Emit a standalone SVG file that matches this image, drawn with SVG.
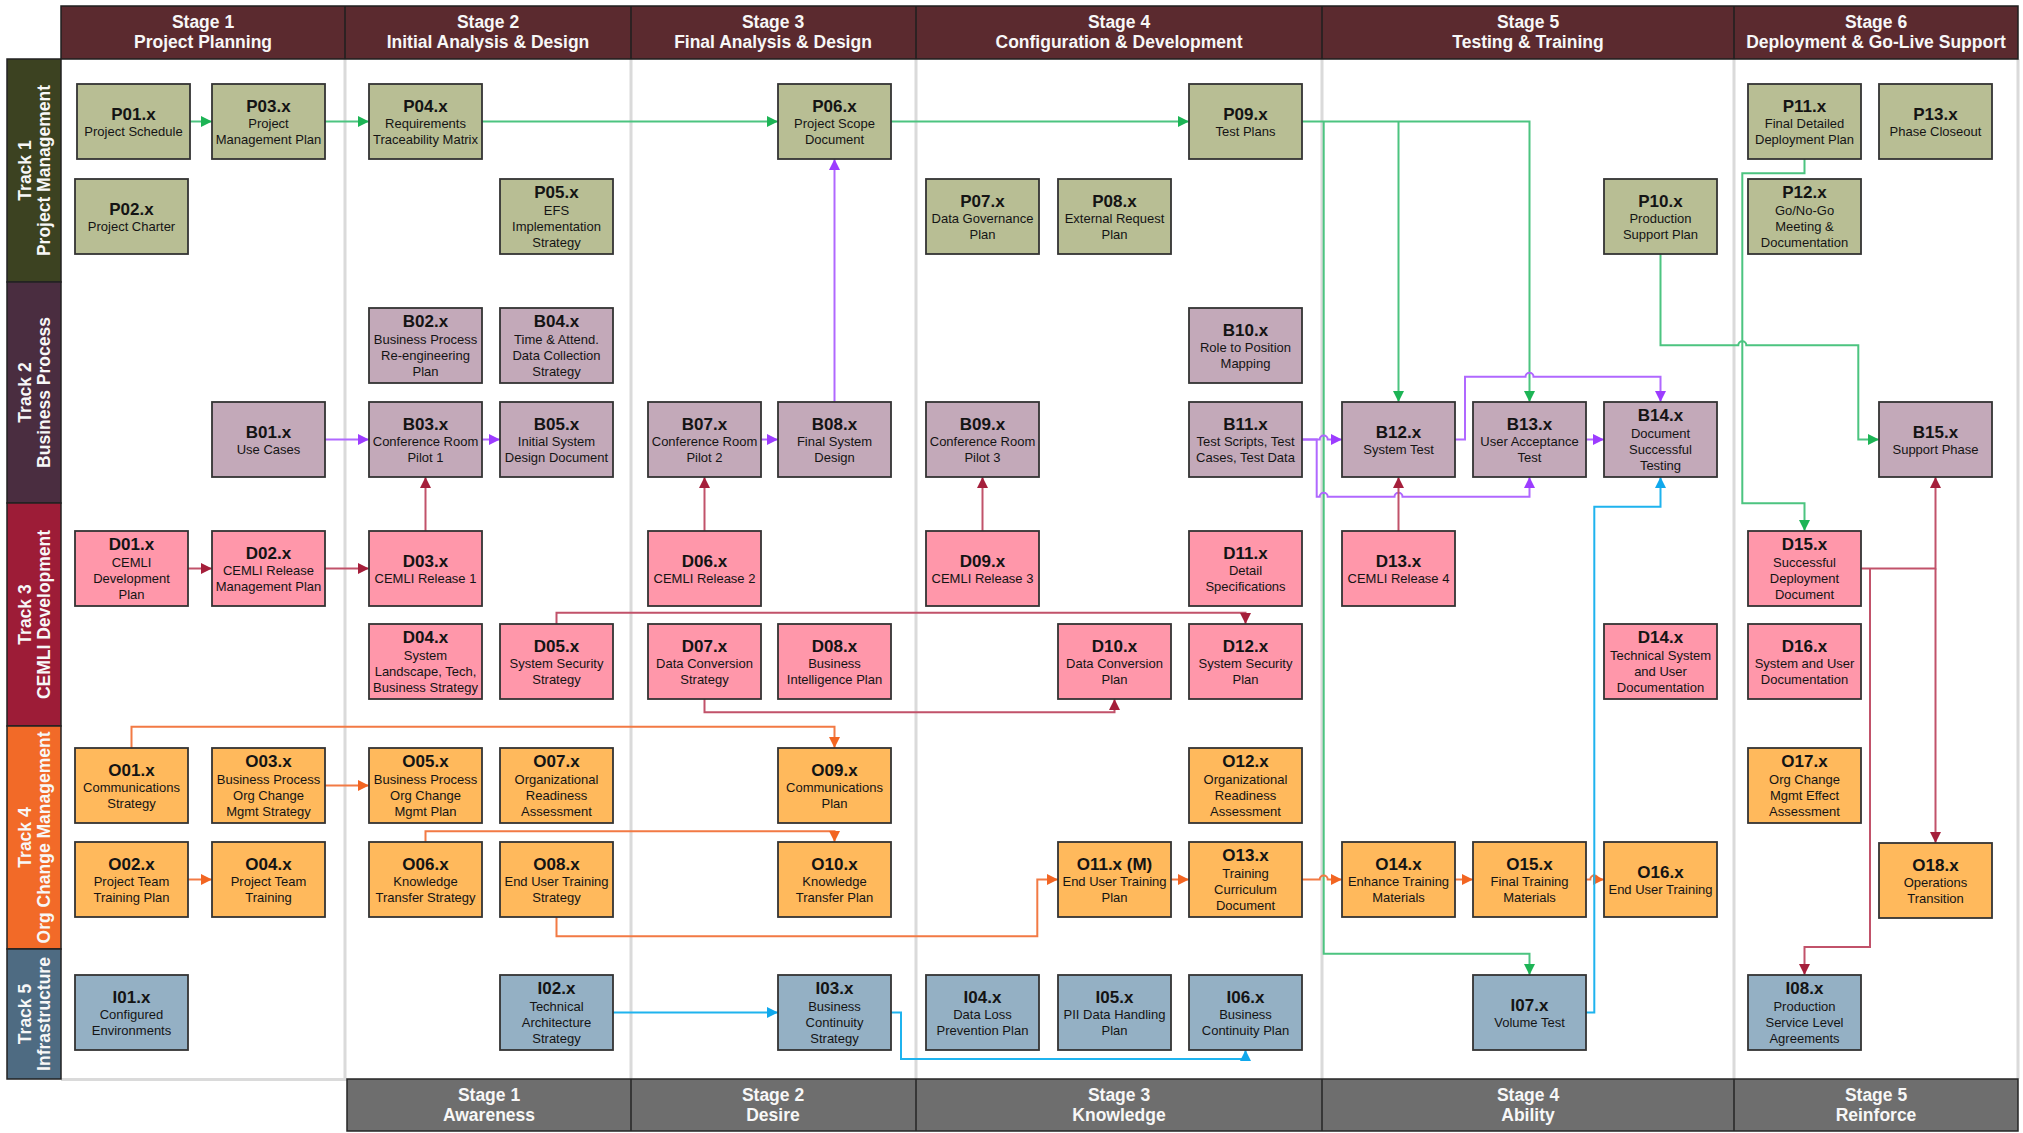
<svg xmlns="http://www.w3.org/2000/svg" width="2023" height="1133" viewBox="0 0 2023 1133">
<style>
text{font-family:"Liberation Sans",Arial,sans-serif}
.band text{font-weight:bold;font-size:17.5px;fill:#f7f7f7;text-anchor:middle}
.n rect{stroke:#333;stroke-width:1.8}
.n text{text-anchor:middle;fill:#141414}
.t{font-weight:bold;font-size:17px}
.s{font-size:13px}
.p rect{fill:#b8be94}
.b rect{fill:#c3a9b9}
.d rect{fill:#ff97aa}
.o rect{fill:#ffb95c}
.i rect{fill:#94b0c4}
.cn path{fill:none;stroke-width:2}
.lg{stroke:#4cc480;marker-end:url(#ag)}
.lp{stroke:#b068ff;marker-end:url(#ap)}
.lc{stroke:#c1526a;marker-end:url(#ac)}
.lo{stroke:#f27a44;marker-end:url(#ao)}
.lb{stroke:#1fb3ee;marker-end:url(#ab)}
.div{stroke:#dadada;stroke-width:3}
</style>
<defs>
<marker id="ag" viewBox="0 0 11 11" refX="11" refY="5.5" markerWidth="11" markerHeight="11" markerUnits="userSpaceOnUse" orient="auto"><path d="M0,0L11,5.5L0,11z" fill="#1db455"/></marker>
<marker id="ap" viewBox="0 0 11 11" refX="11" refY="5.5" markerWidth="11" markerHeight="11" markerUnits="userSpaceOnUse" orient="auto"><path d="M0,0L11,5.5L0,11z" fill="#9c3cff"/></marker>
<marker id="ac" viewBox="0 0 11 11" refX="11" refY="5.5" markerWidth="11" markerHeight="11" markerUnits="userSpaceOnUse" orient="auto"><path d="M0,0L11,5.5L0,11z" fill="#a51f3b"/></marker>
<marker id="ao" viewBox="0 0 11 11" refX="11" refY="5.5" markerWidth="11" markerHeight="11" markerUnits="userSpaceOnUse" orient="auto"><path d="M0,0L11,5.5L0,11z" fill="#f26522"/></marker>
<marker id="ab" viewBox="0 0 11 11" refX="11" refY="5.5" markerWidth="11" markerHeight="11" markerUnits="userSpaceOnUse" orient="auto"><path d="M0,0L11,5.5L0,11z" fill="#10a8ec"/></marker>
</defs>
<rect width="2023" height="1133" fill="#fff"/>

<!-- stage column dividers -->
<g id="grid">
<path class="div" d="M345,59V1079M631,59V1079M916,59V1079M1322,59V1079M1734,59V1079M2018,59V1079M61,1079.5H347"/>
</g>

<!-- stage header (top) -->
<g id="stages-top" class="band">
<rect x="61" y="6" width="1957" height="53" fill="#5b2a2f" stroke="#1f1f1f" stroke-width="1.5"/>
<path d="M345,6V59M631,6V59M916,6V59M1322,6V59M1734,6V59" stroke="#1f1f1f" stroke-width="1.5"/>
<text x="203" y="28">Stage 1</text><text x="203" y="48">Project Planning</text>
<text x="488" y="28">Stage 2</text><text x="488" y="48">Initial Analysis &amp; Design</text>
<text x="773" y="28">Stage 3</text><text x="773" y="48">Final Analysis &amp; Design</text>
<text x="1119" y="28">Stage 4</text><text x="1119" y="48">Configuration &amp; Development</text>
<text x="1528" y="28">Stage 5</text><text x="1528" y="48">Testing &amp; Training</text>
<text x="1876" y="28">Stage 6</text><text x="1876" y="48">Deployment &amp; Go-Live Support</text>
</g>

<!-- change stages (bottom) -->
<g id="stages-bottom" class="band">
<rect x="347" y="1079" width="1671" height="52" fill="#6e6e6e" stroke="#262626" stroke-width="1.5"/>
<path d="M631,1079V1131M916,1079V1131M1322,1079V1131M1734,1079V1131" stroke="#262626" stroke-width="1.5"/>
<text x="489" y="1101">Stage 1</text><text x="489" y="1121">Awareness</text>
<text x="773" y="1101">Stage 2</text><text x="773" y="1121">Desire</text>
<text x="1119" y="1101">Stage 3</text><text x="1119" y="1121">Knowledge</text>
<text x="1528" y="1101">Stage 4</text><text x="1528" y="1121">Ability</text>
<text x="1876" y="1101">Stage 5</text><text x="1876" y="1121">Reinforce</text>
</g>

<!-- track bands -->
<g id="tracks" class="band">
<rect x="7" y="59" width="54" height="223" fill="#3c4221" stroke="#222" stroke-width="1.5"/>
<rect x="7" y="282" width="54" height="221" fill="#4a2d40" stroke="#222" stroke-width="1.5"/>
<rect x="7" y="503" width="54" height="223" fill="#9d1c37" stroke="#222" stroke-width="1.5"/>
<rect x="7" y="726" width="54" height="223" fill="#f26a28" stroke="#222" stroke-width="1.5"/>
<rect x="7" y="949" width="54" height="130" fill="#4e6b82" stroke="#222" stroke-width="1.5"/>
<text transform="translate(31,170.5) rotate(-90)">Track 1</text>
<text transform="translate(50,170.5) rotate(-90)">Project Management</text>
<text transform="translate(31,392.5) rotate(-90)">Track 2</text>
<text transform="translate(50,392.5) rotate(-90)">Business Process</text>
<text transform="translate(31,614.5) rotate(-90)">Track 3</text>
<text transform="translate(50,614.5) rotate(-90)">CEMLI Development</text>
<text transform="translate(31,837.5) rotate(-90)">Track 4</text>
<text transform="translate(50,837.5) rotate(-90)">Org Change Management</text>
<text transform="translate(31,1014) rotate(-90)">Track 5</text>
<text transform="translate(50,1014) rotate(-90)">Infrastructure</text>
</g>

<!-- connectors -->
<g id="connectors" class="cn">
<!-- green: project management flow -->
<path class="lg" d="M190,121.5H212"/>
<path class="lg" d="M325,121.5H369"/>
<path class="lg" d="M482,121.5H778"/>
<path class="lg" d="M891,121.5H1189"/>
<path class="lg" d="M1302,121.5H1529.5V402"/>
<path class="lg" d="M1398.5,121.5V402"/>
<path class="lg" d="M1323.7,121.5V953.7H1529.5V975"/>
<path class="lg" d="M1804.5,159V173.3H1742.3V503.3H1804.5V531"/>
<path class="lg" d="M1660.5,254V345.3H1738.3A4,4 0 0 1 1746.3,345.3H1858.3V439.5H1879"/>
<!-- purple: business process flow -->
<path class="lp" d="M325,439.5H369"/>
<path class="lp" d="M482,439.5H500"/>
<path class="lp" d="M761,439.5H778"/>
<path class="lp" d="M834.5,402V159"/>
<path class="lp" d="M1302,439.5H1319.7A4,4 0 0 1 1327.7,439.5H1342"/>
<path class="lp" d="M1302,439.5H1316.7V496.7H1319.7A4,4 0 0 1 1327.7,496.7H1394.5A4,4 0 0 1 1402.5,496.7H1529.5V477"/>
<path class="lp" d="M1455,439.5H1465V376.7H1525.5A4,4 0 0 1 1533.5,376.7H1660.5V402"/>
<path class="lp" d="M1586,439.5H1604"/>
<!-- crimson: CEMLI flow -->
<path class="lc" d="M188,568.5H212"/>
<path class="lc" d="M325,568.5H369"/>
<path class="lc" d="M425.5,531V477"/>
<path class="lc" d="M704.5,531V477"/>
<path class="lc" d="M982.5,531V477"/>
<path class="lc" d="M1398.5,531V477"/>
<path class="lc" d="M556.5,624V612.7H1245.5V624"/>
<path class="lc" d="M704.5,699V712.3H1114.5V699"/>
<path class="lc" d="M1861,568.5H1935.5V477"/>
<path class="lc" d="M1935.5,568.5V843"/>
<path class="lc" d="M1870,568.5V947H1804.5V975"/>
<!-- orange: org change flow -->
<path class="lo" d="M131.5,748V726.7H834.5V748"/>
<path class="lo" d="M325,785.5H369"/>
<path class="lo" d="M188,879.5H212"/>
<path class="lo" d="M425.5,842V831.3H834.5V842"/>
<path class="lo" d="M556.5,917V936.3H1037.3V879.5H1058"/>
<path class="lo" d="M1171,879.5H1189"/>
<path class="lo" d="M1302,879.5H1319.7A4,4 0 0 1 1327.7,879.5H1342"/>
<path class="lo" d="M1455,879.5H1473"/>
<path class="lo" d="M1586,879.5H1590.3A4,4 0 0 1 1598.3,879.5H1604"/>
<!-- blue: infrastructure flow -->
<path class="lb" d="M613,1012.5H778"/>
<path class="lb" d="M891,1012.5H901V1059H1245.5V1050"/>
<path class="lb" d="M1586,1012.5H1594.3V506.7H1660.5V477"/>
</g>

<!-- Track 1: project management -->
<g id="P01" class="n p" transform="translate(77,84)"><rect width="113" height="75"/><text class="t" x="56.5" y="36">P01.x</text><text class="s" x="56.5" y="52">Project Schedule</text></g>
<g id="P02" class="n p" transform="translate(75,179)"><rect width="113" height="75"/><text class="t" x="56.5" y="36">P02.x</text><text class="s" x="56.5" y="52">Project Charter</text></g>
<g id="P03" class="n p" transform="translate(212,84)"><rect width="113" height="75"/><text class="t" x="56.5" y="27.5">P03.x</text><text class="s" x="56.5" y="44">Project</text><text class="s" x="56.5" y="60">Management Plan</text></g>
<g id="P04" class="n p" transform="translate(369,84)"><rect width="113" height="75"/><text class="t" x="56.5" y="27.5">P04.x</text><text class="s" x="56.5" y="44">Requirements</text><text class="s" x="56.5" y="60">Traceability Matrix</text></g>
<g id="P05" class="n p" transform="translate(500,179)"><rect width="113" height="75"/><text class="t" x="56.5" y="19">P05.x</text><text class="s" x="56.5" y="35.5">EFS</text><text class="s" x="56.5" y="51.5">Implementation</text><text class="s" x="56.5" y="68">Strategy</text></g>
<g id="P06" class="n p" transform="translate(778,84)"><rect width="113" height="75"/><text class="t" x="56.5" y="27.5">P06.x</text><text class="s" x="56.5" y="44">Project Scope</text><text class="s" x="56.5" y="60">Document</text></g>
<g id="P07" class="n p" transform="translate(926,179)"><rect width="113" height="75"/><text class="t" x="56.5" y="27.5">P07.x</text><text class="s" x="56.5" y="44">Data Governance</text><text class="s" x="56.5" y="60">Plan</text></g>
<g id="P08" class="n p" transform="translate(1058,179)"><rect width="113" height="75"/><text class="t" x="56.5" y="27.5">P08.x</text><text class="s" x="56.5" y="44">External Request</text><text class="s" x="56.5" y="60">Plan</text></g>
<g id="P09" class="n p" transform="translate(1189,84)"><rect width="113" height="75"/><text class="t" x="56.5" y="36">P09.x</text><text class="s" x="56.5" y="52">Test Plans</text></g>
<g id="P10" class="n p" transform="translate(1604,179)"><rect width="113" height="75"/><text class="t" x="56.5" y="27.5">P10.x</text><text class="s" x="56.5" y="44">Production</text><text class="s" x="56.5" y="60">Support Plan</text></g>
<g id="P11" class="n p" transform="translate(1748,84)"><rect width="113" height="75"/><text class="t" x="56.5" y="27.5">P11.x</text><text class="s" x="56.5" y="44">Final Detailed</text><text class="s" x="56.5" y="60">Deployment Plan</text></g>
<g id="P12" class="n p" transform="translate(1748,179)"><rect width="113" height="75"/><text class="t" x="56.5" y="19">P12.x</text><text class="s" x="56.5" y="35.5">Go/No-Go</text><text class="s" x="56.5" y="51.5">Meeting &amp;</text><text class="s" x="56.5" y="68">Documentation</text></g>
<g id="P13" class="n p" transform="translate(1879,84)"><rect width="113" height="75"/><text class="t" x="56.5" y="36">P13.x</text><text class="s" x="56.5" y="52">Phase Closeout</text></g>

<!-- Track 2: business process -->
<g id="B01" class="n b" transform="translate(212,402)"><rect width="113" height="75"/><text class="t" x="56.5" y="36">B01.x</text><text class="s" x="56.5" y="52">Use Cases</text></g>
<g id="B02" class="n b" transform="translate(369,308)"><rect width="113" height="75"/><text class="t" x="56.5" y="19">B02.x</text><text class="s" x="56.5" y="35.5">Business Process</text><text class="s" x="56.5" y="51.5">Re-engineering</text><text class="s" x="56.5" y="68">Plan</text></g>
<g id="B03" class="n b" transform="translate(369,402)"><rect width="113" height="75"/><text class="t" x="56.5" y="27.5">B03.x</text><text class="s" x="56.5" y="44">Conference Room</text><text class="s" x="56.5" y="60">Pilot 1</text></g>
<g id="B04" class="n b" transform="translate(500,308)"><rect width="113" height="75"/><text class="t" x="56.5" y="19">B04.x</text><text class="s" x="56.5" y="35.5">Time &amp; Attend.</text><text class="s" x="56.5" y="51.5">Data Collection</text><text class="s" x="56.5" y="68">Strategy</text></g>
<g id="B05" class="n b" transform="translate(500,402)"><rect width="113" height="75"/><text class="t" x="56.5" y="27.5">B05.x</text><text class="s" x="56.5" y="44">Initial System</text><text class="s" x="56.5" y="60">Design Document</text></g>
<g id="B07" class="n b" transform="translate(648,402)"><rect width="113" height="75"/><text class="t" x="56.5" y="27.5">B07.x</text><text class="s" x="56.5" y="44">Conference Room</text><text class="s" x="56.5" y="60">Pilot 2</text></g>
<g id="B08" class="n b" transform="translate(778,402)"><rect width="113" height="75"/><text class="t" x="56.5" y="27.5">B08.x</text><text class="s" x="56.5" y="44">Final System</text><text class="s" x="56.5" y="60">Design</text></g>
<g id="B09" class="n b" transform="translate(926,402)"><rect width="113" height="75"/><text class="t" x="56.5" y="27.5">B09.x</text><text class="s" x="56.5" y="44">Conference Room</text><text class="s" x="56.5" y="60">Pilot 3</text></g>
<g id="B10" class="n b" transform="translate(1189,308)"><rect width="113" height="75"/><text class="t" x="56.5" y="27.5">B10.x</text><text class="s" x="56.5" y="44">Role to Position</text><text class="s" x="56.5" y="60">Mapping</text></g>
<g id="B11" class="n b" transform="translate(1189,402)"><rect width="113" height="75"/><text class="t" x="56.5" y="27.5">B11.x</text><text class="s" x="56.5" y="44">Test Scripts, Test</text><text class="s" x="56.5" y="60">Cases, Test Data</text></g>
<g id="B12" class="n b" transform="translate(1342,402)"><rect width="113" height="75"/><text class="t" x="56.5" y="36">B12.x</text><text class="s" x="56.5" y="52">System Test</text></g>
<g id="B13" class="n b" transform="translate(1473,402)"><rect width="113" height="75"/><text class="t" x="56.5" y="27.5">B13.x</text><text class="s" x="56.5" y="44">User Acceptance</text><text class="s" x="56.5" y="60">Test</text></g>
<g id="B14" class="n b" transform="translate(1604,402)"><rect width="113" height="75"/><text class="t" x="56.5" y="19">B14.x</text><text class="s" x="56.5" y="35.5">Document</text><text class="s" x="56.5" y="51.5">Successful</text><text class="s" x="56.5" y="68">Testing</text></g>
<g id="B15" class="n b" transform="translate(1879,402)"><rect width="113" height="75"/><text class="t" x="56.5" y="36">B15.x</text><text class="s" x="56.5" y="52">Support Phase</text></g>

<!-- Track 3: CEMLI development -->
<g id="D01" class="n d" transform="translate(75,531)"><rect width="113" height="75"/><text class="t" x="56.5" y="19">D01.x</text><text class="s" x="56.5" y="35.5">CEMLI</text><text class="s" x="56.5" y="51.5">Development</text><text class="s" x="56.5" y="68">Plan</text></g>
<g id="D02" class="n d" transform="translate(212,531)"><rect width="113" height="75"/><text class="t" x="56.5" y="27.5">D02.x</text><text class="s" x="56.5" y="44">CEMLI Release</text><text class="s" x="56.5" y="60">Management Plan</text></g>
<g id="D03" class="n d" transform="translate(369,531)"><rect width="113" height="75"/><text class="t" x="56.5" y="36">D03.x</text><text class="s" x="56.5" y="52">CEMLI Release 1</text></g>
<g id="D04" class="n d" transform="translate(369,624)"><rect width="113" height="75"/><text class="t" x="56.5" y="19">D04.x</text><text class="s" x="56.5" y="35.5">System</text><text class="s" x="56.5" y="51.5">Landscape, Tech,</text><text class="s" x="56.5" y="68">Business Strategy</text></g>
<g id="D05" class="n d" transform="translate(500,624)"><rect width="113" height="75"/><text class="t" x="56.5" y="27.5">D05.x</text><text class="s" x="56.5" y="44">System Security</text><text class="s" x="56.5" y="60">Strategy</text></g>
<g id="D06" class="n d" transform="translate(648,531)"><rect width="113" height="75"/><text class="t" x="56.5" y="36">D06.x</text><text class="s" x="56.5" y="52">CEMLI Release 2</text></g>
<g id="D07" class="n d" transform="translate(648,624)"><rect width="113" height="75"/><text class="t" x="56.5" y="27.5">D07.x</text><text class="s" x="56.5" y="44">Data Conversion</text><text class="s" x="56.5" y="60">Strategy</text></g>
<g id="D08" class="n d" transform="translate(778,624)"><rect width="113" height="75"/><text class="t" x="56.5" y="27.5">D08.x</text><text class="s" x="56.5" y="44">Business</text><text class="s" x="56.5" y="60">Intelligence Plan</text></g>
<g id="D09" class="n d" transform="translate(926,531)"><rect width="113" height="75"/><text class="t" x="56.5" y="36">D09.x</text><text class="s" x="56.5" y="52">CEMLI Release 3</text></g>
<g id="D10" class="n d" transform="translate(1058,624)"><rect width="113" height="75"/><text class="t" x="56.5" y="27.5">D10.x</text><text class="s" x="56.5" y="44">Data Conversion</text><text class="s" x="56.5" y="60">Plan</text></g>
<g id="D11" class="n d" transform="translate(1189,531)"><rect width="113" height="75"/><text class="t" x="56.5" y="27.5">D11.x</text><text class="s" x="56.5" y="44">Detail</text><text class="s" x="56.5" y="60">Specifications</text></g>
<g id="D12" class="n d" transform="translate(1189,624)"><rect width="113" height="75"/><text class="t" x="56.5" y="27.5">D12.x</text><text class="s" x="56.5" y="44">System Security</text><text class="s" x="56.5" y="60">Plan</text></g>
<g id="D13" class="n d" transform="translate(1342,531)"><rect width="113" height="75"/><text class="t" x="56.5" y="36">D13.x</text><text class="s" x="56.5" y="52">CEMLI Release 4</text></g>
<g id="D14" class="n d" transform="translate(1604,624)"><rect width="113" height="75"/><text class="t" x="56.5" y="19">D14.x</text><text class="s" x="56.5" y="35.5">Technical System</text><text class="s" x="56.5" y="51.5">and User</text><text class="s" x="56.5" y="68">Documentation</text></g>
<g id="D15" class="n d" transform="translate(1748,531)"><rect width="113" height="75"/><text class="t" x="56.5" y="19">D15.x</text><text class="s" x="56.5" y="35.5">Successful</text><text class="s" x="56.5" y="51.5">Deployment</text><text class="s" x="56.5" y="68">Document</text></g>
<g id="D16" class="n d" transform="translate(1748,624)"><rect width="113" height="75"/><text class="t" x="56.5" y="27.5">D16.x</text><text class="s" x="56.5" y="44">System and User</text><text class="s" x="56.5" y="60">Documentation</text></g>

<!-- Track 4: org change management -->
<g id="O01" class="n o" transform="translate(75,748)"><rect width="113" height="75"/><text class="t" x="56.5" y="27.5">O01.x</text><text class="s" x="56.5" y="44">Communications</text><text class="s" x="56.5" y="60">Strategy</text></g>
<g id="O02" class="n o" transform="translate(75,842)"><rect width="113" height="75"/><text class="t" x="56.5" y="27.5">O02.x</text><text class="s" x="56.5" y="44">Project Team</text><text class="s" x="56.5" y="60">Training Plan</text></g>
<g id="O03" class="n o" transform="translate(212,748)"><rect width="113" height="75"/><text class="t" x="56.5" y="19">O03.x</text><text class="s" x="56.5" y="35.5">Business Process</text><text class="s" x="56.5" y="51.5">Org Change</text><text class="s" x="56.5" y="68">Mgmt Strategy</text></g>
<g id="O04" class="n o" transform="translate(212,842)"><rect width="113" height="75"/><text class="t" x="56.5" y="27.5">O04.x</text><text class="s" x="56.5" y="44">Project Team</text><text class="s" x="56.5" y="60">Training</text></g>
<g id="O05" class="n o" transform="translate(369,748)"><rect width="113" height="75"/><text class="t" x="56.5" y="19">O05.x</text><text class="s" x="56.5" y="35.5">Business Process</text><text class="s" x="56.5" y="51.5">Org Change</text><text class="s" x="56.5" y="68">Mgmt Plan</text></g>
<g id="O06" class="n o" transform="translate(369,842)"><rect width="113" height="75"/><text class="t" x="56.5" y="27.5">O06.x</text><text class="s" x="56.5" y="44">Knowledge</text><text class="s" x="56.5" y="60">Transfer Strategy</text></g>
<g id="O07" class="n o" transform="translate(500,748)"><rect width="113" height="75"/><text class="t" x="56.5" y="19">O07.x</text><text class="s" x="56.5" y="35.5">Organizational</text><text class="s" x="56.5" y="51.5">Readiness</text><text class="s" x="56.5" y="68">Assessment</text></g>
<g id="O08" class="n o" transform="translate(500,842)"><rect width="113" height="75"/><text class="t" x="56.5" y="27.5">O08.x</text><text class="s" x="56.5" y="44">End User Training</text><text class="s" x="56.5" y="60">Strategy</text></g>
<g id="O09" class="n o" transform="translate(778,748)"><rect width="113" height="75"/><text class="t" x="56.5" y="27.5">O09.x</text><text class="s" x="56.5" y="44">Communications</text><text class="s" x="56.5" y="60">Plan</text></g>
<g id="O10" class="n o" transform="translate(778,842)"><rect width="113" height="75"/><text class="t" x="56.5" y="27.5">O10.x</text><text class="s" x="56.5" y="44">Knowledge</text><text class="s" x="56.5" y="60">Transfer Plan</text></g>
<g id="O11" class="n o" transform="translate(1058,842)"><rect width="113" height="75"/><text class="t" x="56.5" y="27.5">O11.x (M)</text><text class="s" x="56.5" y="44">End User Training</text><text class="s" x="56.5" y="60">Plan</text></g>
<g id="O12" class="n o" transform="translate(1189,748)"><rect width="113" height="75"/><text class="t" x="56.5" y="19">O12.x</text><text class="s" x="56.5" y="35.5">Organizational</text><text class="s" x="56.5" y="51.5">Readiness</text><text class="s" x="56.5" y="68">Assessment</text></g>
<g id="O13" class="n o" transform="translate(1189,842)"><rect width="113" height="75"/><text class="t" x="56.5" y="19">O13.x</text><text class="s" x="56.5" y="35.5">Training</text><text class="s" x="56.5" y="51.5">Curriculum</text><text class="s" x="56.5" y="68">Document</text></g>
<g id="O14" class="n o" transform="translate(1342,842)"><rect width="113" height="75"/><text class="t" x="56.5" y="27.5">O14.x</text><text class="s" x="56.5" y="44">Enhance Training</text><text class="s" x="56.5" y="60">Materials</text></g>
<g id="O15" class="n o" transform="translate(1473,842)"><rect width="113" height="75"/><text class="t" x="56.5" y="27.5">O15.x</text><text class="s" x="56.5" y="44">Final Training</text><text class="s" x="56.5" y="60">Materials</text></g>
<g id="O16" class="n o" transform="translate(1604,842)"><rect width="113" height="75"/><text class="t" x="56.5" y="36">O16.x</text><text class="s" x="56.5" y="52">End User Training</text></g>
<g id="O17" class="n o" transform="translate(1748,748)"><rect width="113" height="75"/><text class="t" x="56.5" y="19">O17.x</text><text class="s" x="56.5" y="35.5">Org Change</text><text class="s" x="56.5" y="51.5">Mgmt Effect</text><text class="s" x="56.5" y="68">Assessment</text></g>
<g id="O18" class="n o" transform="translate(1879,843)"><rect width="113" height="75"/><text class="t" x="56.5" y="27.5">O18.x</text><text class="s" x="56.5" y="44">Operations</text><text class="s" x="56.5" y="60">Transition</text></g>

<!-- Track 5: infrastructure -->
<g id="I01" class="n i" transform="translate(75,975)"><rect width="113" height="75"/><text class="t" x="56.5" y="27.5">I01.x</text><text class="s" x="56.5" y="44">Configured</text><text class="s" x="56.5" y="60">Environments</text></g>
<g id="I02" class="n i" transform="translate(500,975)"><rect width="113" height="75"/><text class="t" x="56.5" y="19">I02.x</text><text class="s" x="56.5" y="35.5">Technical</text><text class="s" x="56.5" y="51.5">Architecture</text><text class="s" x="56.5" y="68">Strategy</text></g>
<g id="I03" class="n i" transform="translate(778,975)"><rect width="113" height="75"/><text class="t" x="56.5" y="19">I03.x</text><text class="s" x="56.5" y="35.5">Business</text><text class="s" x="56.5" y="51.5">Continuity</text><text class="s" x="56.5" y="68">Strategy</text></g>
<g id="I04" class="n i" transform="translate(926,975)"><rect width="113" height="75"/><text class="t" x="56.5" y="27.5">I04.x</text><text class="s" x="56.5" y="44">Data Loss</text><text class="s" x="56.5" y="60">Prevention Plan</text></g>
<g id="I05" class="n i" transform="translate(1058,975)"><rect width="113" height="75"/><text class="t" x="56.5" y="27.5">I05.x</text><text class="s" x="56.5" y="44">PII Data Handling</text><text class="s" x="56.5" y="60">Plan</text></g>
<g id="I06" class="n i" transform="translate(1189,975)"><rect width="113" height="75"/><text class="t" x="56.5" y="27.5">I06.x</text><text class="s" x="56.5" y="44">Business</text><text class="s" x="56.5" y="60">Continuity Plan</text></g>
<g id="I07" class="n i" transform="translate(1473,975)"><rect width="113" height="75"/><text class="t" x="56.5" y="36">I07.x</text><text class="s" x="56.5" y="52">Volume Test</text></g>
<g id="I08" class="n i" transform="translate(1748,975)"><rect width="113" height="75"/><text class="t" x="56.5" y="19">I08.x</text><text class="s" x="56.5" y="35.5">Production</text><text class="s" x="56.5" y="51.5">Service Level</text><text class="s" x="56.5" y="68">Agreements</text></g>
</svg>
